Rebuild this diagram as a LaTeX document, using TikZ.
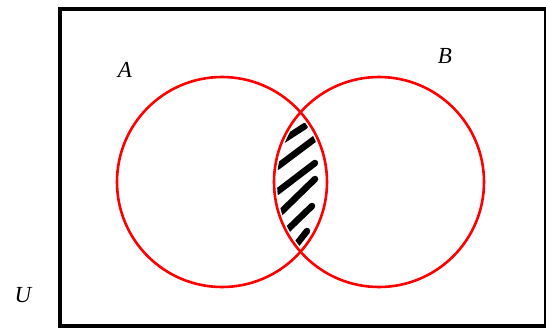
\documentclass[tikz,border=0pt]{standalone}
\usepackage{fontspec}
\setmainfont{Liberation Serif}
\begin{document}
\begin{tikzpicture}[x=1pt,y=-1pt,
  setc/.style={draw=red, line width=2.6pt},
  hatch/.style={line width=6.5pt, line cap=round},
  lbl/.style={font=\itshape\fontsize{23}{23}\selectfont, inner sep=0pt}]
\useasboundingbox (0,0) rectangle (546,327);
\fill[white] (0,0) rectangle (546,327);
\node[draw, line width=3.8pt, minimum width=486pt, minimum height=317pt, inner sep=0pt, anchor=north west] (U) at (58,7) {};
\coordinate (cA) at (222,182);
\coordinate (cB) at (379,182);
\begin{scope}
  \clip (cA) circle (102);
  \clip (cB) circle (102);
  \draw[hatch] (274,146) -- (305,126);
  \draw[hatch] (277,167) -- (317,137);
  \draw[hatch] (277,192) -- (315,163);
  \draw[hatch] (276,217) -- (315,179);
  \draw[hatch] (282,235) -- (312,206);
  \draw[hatch] (296,245) -- (307,231);
\end{scope}
\draw[setc] (cA) circle (105);
\draw[setc] (cB) circle (105);
\node[lbl] (la) at (125,70) {A};
\node[lbl] (lb) at (445,56) {B};
\node[lbl] (lu) at (23,295) {U};
\end{tikzpicture}
\end{document}
